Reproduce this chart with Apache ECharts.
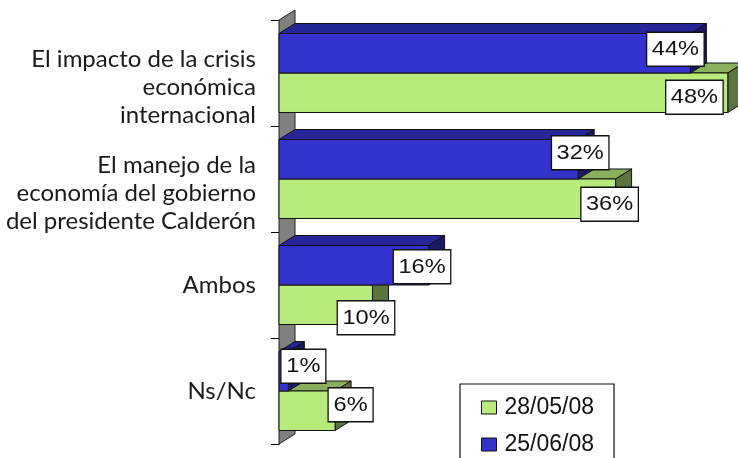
<!DOCTYPE html>
<html><head><meta charset="utf-8">
<style>html,body{margin:0;padding:0;background:#fff;overflow:hidden}#c{width:738px;height:458px}</style>
<script src="https://cdn.jsdelivr.net/npm/echarts@6/dist/echarts.min.js"></script>
</head><body><div id="c"></div>
<script>
var categories = ['El impacto de la crisis\neconómica\ninternacional','El manejo de la\neconomía del gobierno\ndel presidente Calderón','Ambos','Ns/Nc'];
var dateGreen = '28/05/08';
var dateBlue = '25/06/08';
var valuesGreen = [48,36,10,6];
var valuesBlue = [44,32,16,1];

// styling and label placement only
var DX = 16, DY = 10;
var BLUE = {front:'#3333CC', top:'#262699', side:'#191966'};
var GREEN = {front:'#B7EB7C', top:'#8AB05D', side:'#5C753E'};
var shiftGreen = [[-33.4,4.5],[-6,5.5],[-6.5,13],[15.5,-6]];
var shiftBlue = [[-15,-4],[2,-6.5],[-6.6,1.5],[15,-5]];

function toData(vals){ return vals.map(function(v,i){ return [v,i]; }); }

function barItem(colors, above){
  return function(params, api){
    var v = api.value(0), i = api.value(1);
    var end = api.coord([v,i]), zero = api.coord([0,i]);
    var h = api.size([0,1])[1]*0.3726;
    var x0 = zero[0], x1 = end[0];
    var y0 = above ? end[1]-h : end[1], y1 = y0+h;
    var line = {stroke:'#111', lineWidth:1};
    return {type:'group', children:[
      {type:'polygon', shape:{points:[[x0,y0],[x0+DX,y0-DY],[x1+DX,y0-DY],[x1,y0]]}, style:Object.assign({fill:colors.top},line)},
      {type:'polygon', shape:{points:[[x1,y0],[x1+DX,y0-DY],[x1+DX,y1-DY],[x1,y1]]}, style:Object.assign({fill:colors.side},line)},
      {type:'rect', shape:{x:x0,y:y0,width:x1-x0,height:h}, style:Object.assign({fill:colors.front},line)}
    ]};
  };
}
function labelItem(shift, above){
  return function(params, api){
    var v = api.value(0), i = api.value(1);
    var end = api.coord([v,i]);
    var h = api.size([0,1])[1]*0.3726;
    var cy = (above ? end[1]-h/2 : end[1]+h/2) + shift[i][1];
    var cx = end[0] + shift[i][0];
    var txt = v+'%';
    var w = txt.length>2 ? 57.5 : 45, bh = 34;
    return {type:'group', children:[
      {type:'rect', shape:{x:cx-w/2,y:cy-bh/2,width:w,height:bh}, style:{fill:'#fff',stroke:'#111',lineWidth:1.3}},
      {type:'text', x:cx, y:cy+0.5, scaleX:1.15, scaleY:1, style:{x:0,y:0,text:txt,align:'center',verticalAlign:'middle',fill:'#111',fontFamily:'Liberation Sans',fontSize:20.5}}
    ]};
  };
}
function wallItem(params, api){
  var g = params.coordSys;
  return {type:'polygon', shape:{points:[[g.x,g.y],[g.x+DX,g.y-DY],[g.x+DX,g.y+g.height-DY],[g.x,g.y+g.height]]},
    style:{fill:'#808080',stroke:'#222',lineWidth:1}};
}
var chart = echarts.init(document.getElementById('c'),null,{renderer:'canvas'});
chart.setOption({
  animation:false,
  backgroundColor:'#fff',
  grid:{left:279,top:20,width:448.8,height:424,containLabel:false},
  xAxis:{type:'value',min:0,max:48,show:false},
  yAxis:{type:'category',inverse:true,data:categories,
    axisLine:{show:true,lineStyle:{color:'#000',width:1}},
    axisTick:{show:true,length:8,alignWithLabel:false,lineStyle:{color:'#000'}},
    axisLabel:{margin:23,align:'right',color:'#1a1a1a',fontFamily:'Lato',fontSize:24,lineHeight:28,interval:0,padding:[4,0,0,0],
      formatter:function(s){ return s.indexOf('\n')>=0 ? '\n'+s : s; }}
  },
  legend:{orient:'vertical',left:460,top:384,height:100,padding:[12,20,14,21],itemGap:14,itemWidth:15,itemHeight:13,
    borderColor:'#111',borderWidth:1.2,backgroundColor:'#fff',icon:'rect',
    textStyle:{fontFamily:'Liberation Sans',fontSize:23,color:'#111',padding:[0,0,0,3]},
    data:[{name:dateGreen,itemStyle:{color:GREEN.front,borderColor:'#111',borderWidth:1}},{name:dateBlue,itemStyle:{color:BLUE.front,borderColor:'#111',borderWidth:1}}],
    selectedMode:false},
  series:[
    {type:'custom',name:'wall',z:1,data:[[0,0]],renderItem:wallItem,clip:false,silent:true,encode:{x:0,y:1}},
    {type:'custom',name:dateGreen,z:2,data:toData(valuesGreen),renderItem:barItem(GREEN,false),clip:false,encode:{x:0,y:1},itemStyle:{color:GREEN.front}},
    {type:'custom',name:dateBlue,z:3,data:toData(valuesBlue),renderItem:barItem(BLUE,true),clip:false,encode:{x:0,y:1},itemStyle:{color:BLUE.front}},
    {type:'custom',name:'lb',z:5,data:toData(valuesBlue),renderItem:labelItem(shiftBlue,true),clip:false,encode:{x:0,y:1}},
    {type:'custom',name:'lg',z:5,data:toData(valuesGreen),renderItem:labelItem(shiftGreen,false),clip:false,encode:{x:0,y:1}}
  ]
});
</script></body></html>
